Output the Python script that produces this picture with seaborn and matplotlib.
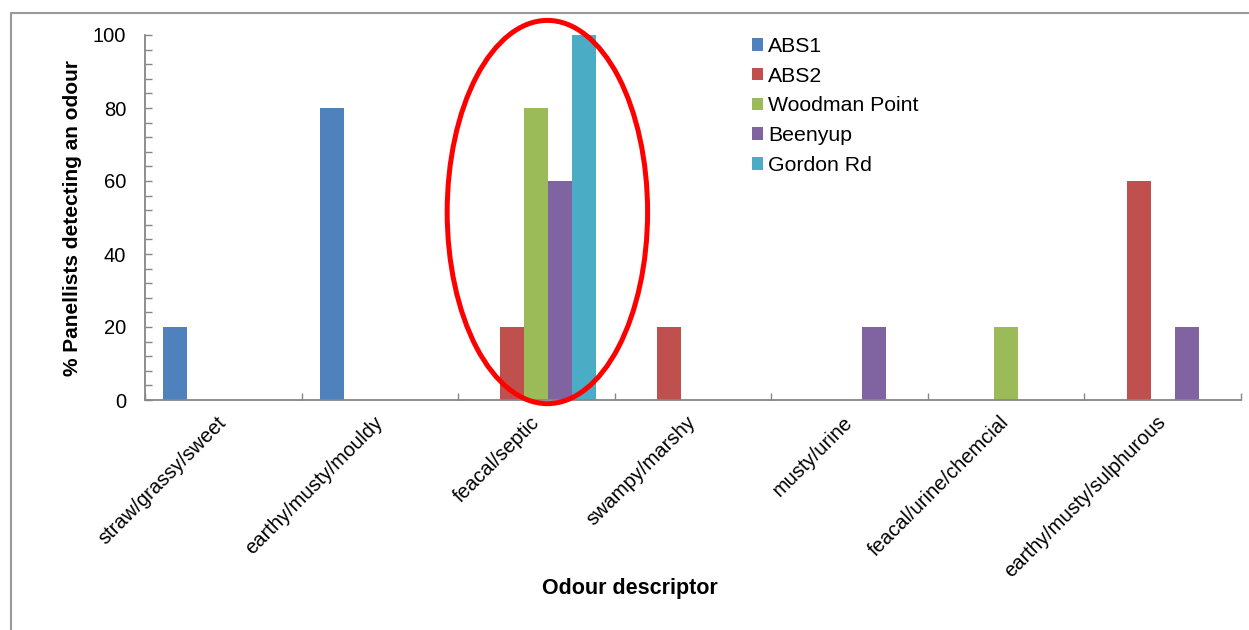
import numpy as np
import pandas as pd
import matplotlib
matplotlib.use("Agg")
import matplotlib.pyplot as plt
from matplotlib.patches import Ellipse
from matplotlib.lines import Line2D
from matplotlib.ticker import MultipleLocator, FixedLocator
import seaborn as sns

# Odour descriptors (x categories)
descriptors = [
    "straw/grassy/sweet",
    "earthy/musty/mouldy",
    "feacal/septic",
    "swampy/marshy",
    "musty/urine",
    "feacal/urine/chemcial",
    "earthy/musty/sulphurous",
]

# Sites (series)
sites = ["ABS1", "ABS2", "Woodman Point", "Beenyup", "Gordon Rd"]
site_colors = ["#4F81BD", "#C0504D", "#9BBB59", "#8064A2", "#4BACC6"]

# % panellists detecting each descriptor, per site
abs1 = [20, 80, 0, 0, 0, 0, 0]
abs2 = [0, 0, 20, 20, 0, 0, 60]
woodman_point = [0, 0, 80, 0, 0, 20, 0]
beenyup = [0, 0, 60, 0, 20, 0, 20]
gordon_rd = [0, 0, 100, 0, 0, 0, 0]

y_ticks = [0, 20, 40, 60, 80, 100]

series = [abs1, abs2, woodman_point, beenyup, gordon_rd]
df = pd.DataFrame(
    [(d, s, v) for s, vals in zip(sites, series) for d, v in zip(descriptors, vals)],
    columns=["descriptor", "site", "pct"],
)

sns.set_theme(style="white")
plt.rcParams["font.family"] = ["Liberation Sans", "DejaVu Sans"]
plt.rcParams["text.color"] = "black"
plt.rcParams["axes.labelcolor"] = "black"

W, H = 1249, 630
fig = plt.figure(figsize=(W / 100, H / 100), dpi=100)
ax = fig.add_axes([145 / W, (H - 400) / H, 1096 / W, 365 / H])

sns.barplot(
    data=df, x="descriptor", y="pct", hue="site",
    order=descriptors, hue_order=sites, palette=site_colors,
    width=0.766, saturation=1, linewidth=0, ax=ax,
)

axis_grey = "#868686"
ax.set_xlim(-0.5, len(descriptors) - 0.5)
ax.set_ylim(0, 100)
ax.set_yticks(y_ticks)
ax.yaxis.set_minor_locator(MultipleLocator(4))
ax.xaxis.set_minor_locator(FixedLocator(np.arange(-0.5, len(descriptors), 1.0)))

for side in ["top", "right"]:
    ax.spines[side].set_visible(False)
for side in ["left", "bottom"]:
    ax.spines[side].set_color(axis_grey)
    ax.spines[side].set_linewidth(1.3)

ax.tick_params(axis="y", which="both", direction="in", length=5, width=1,
               color=axis_grey, labelsize=14.5, labelcolor="black", pad=13.5,
               left=True)
ax.tick_params(axis="x", which="major", length=0, labelsize=14.5,
               labelcolor="black", pad=14)
ax.tick_params(axis="x", which="minor", direction="in", length=5, width=1,
               color=axis_grey, bottom=True)

ax.set_xticks(range(len(descriptors)))
ax.set_xticklabels(descriptors, rotation=45, ha="right", va="center",
                   rotation_mode="anchor")

ax.set_ylabel("% Panellists detecting an odour", fontsize=15,
              fontweight="bold", color="black")
ax.yaxis.set_label_coords((73 - 145) / 1096, 0.5)
ax.yaxis.label.set_va("center")
ax.set_xlabel("Odour descriptor", fontsize=15.5, fontweight="bold",
              color="black")
ax.xaxis.set_label_coords((629.5 - 145) / 1096, (400 - 588.5) / 365)
ax.xaxis.label.set_va("center")

leg = ax.legend(
    loc="upper left", bbox_to_anchor=((752 - 145) / 1096, (400 - 37) / 365),
    frameon=False, fontsize=15.3, handlelength=0.52, handleheight=0.52,
    handletextpad=0.24, labelspacing=0.505, borderpad=0, borderaxespad=0,
)
for t in leg.get_texts():
    t.set_color("black")

# highlight ring around the feacal/septic group
hi = descriptors.index("feacal/septic")
ax.add_patch(Ellipse((hi + 0.07, 51.5), 1.28, 105, fill=False,
                     edgecolor="#FF0000", linewidth=3.6, clip_on=False,
                     zorder=5))

# chart-area border
frame_grey = "#999999"
fig.add_artist(Line2D([11 / W, 1.0], [1 - 13 / H, 1 - 13 / H],
                      transform=fig.transFigure, color=frame_grey, lw=1.5))
fig.add_artist(Line2D([11 / W, 11 / W], [0.0, 1 - 13 / H],
                      transform=fig.transFigure, color=frame_grey, lw=1.5))

fig.savefig("out.png", dpi=100, facecolor="white")
